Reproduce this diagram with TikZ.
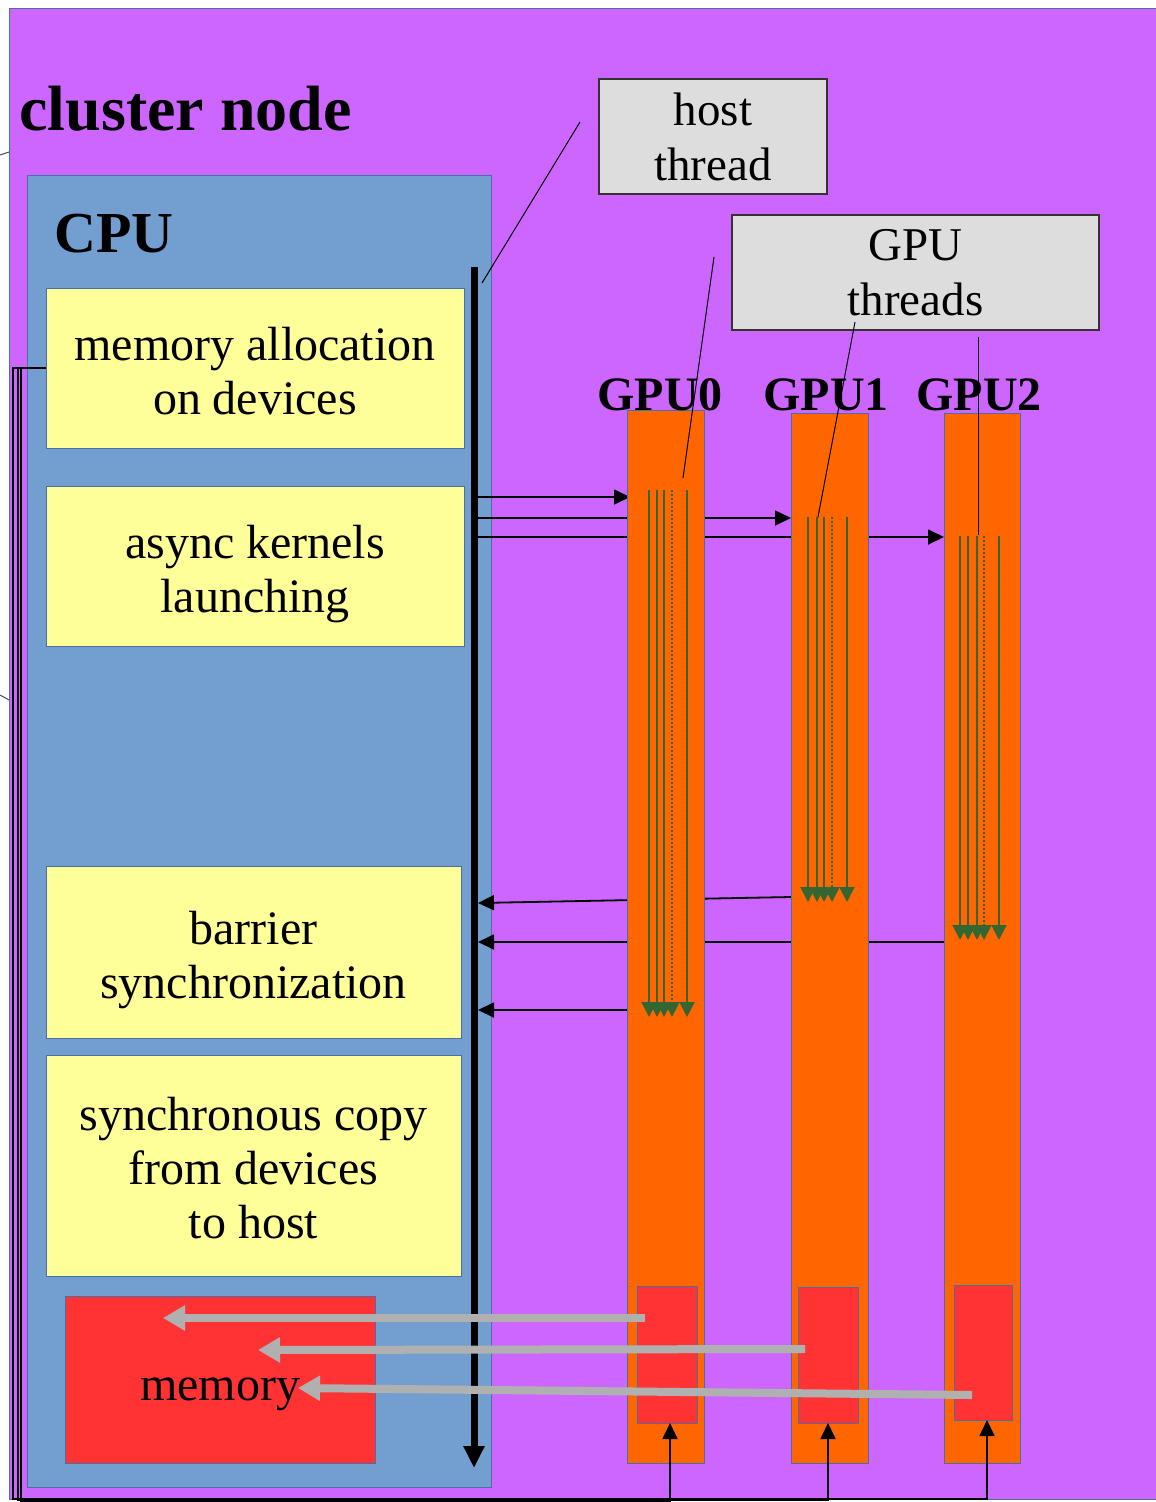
\documentclass[tikz,border=0pt]{standalone}
\usepackage{fontspec}
\setmainfont{Liberation Serif}
\usetikzlibrary{arrows.meta}

\definecolor{nodepurple}{HTML}{CC66FF}
\definecolor{cpublue}{HTML}{729FCF}
\definecolor{stepyellow}{HTML}{FFFF99}
\definecolor{gpuorange}{HTML}{FF6600}
\definecolor{memred}{HTML}{FF3333}
\definecolor{notegray}{HTML}{DDDDDD}
\definecolor{threadgreen}{HTML}{336633}
\definecolor{copygray}{HTML}{B0B0B0}
\definecolor{edgeblue}{HTML}{4A6FA5}

\tikzset{
  region/.style={draw=edgeblue, line width=1pt, inner sep=0pt, outer sep=0pt,
    anchor=north west, align=center},
  steptext/.style={font=\fontsize{48}{54}\selectfont, align=center, inner sep=0pt},
  notebox/.style={draw=black!80, fill=notegray, line width=1.2pt, inner sep=0pt,
    outer sep=0pt, anchor=north west, align=center, font=\fontsize{47}{55}\selectfont},
  link/.style={draw=black, line width=1.8pt, -{Triangle[length=16pt,width=15pt]}},
  leader/.style={draw=black, line width=1pt},
  thr/.style={draw=threadgreen, line width=2pt, -{Triangle[length=15pt,width=15pt]}},
  thrdot/.style={thr, dash pattern=on 2pt off 2pt},
  copyarrow/.style={draw=copygray, line width=8pt, -{Triangle[length=22pt,width=24pt]}},
  hostline/.style={draw=black, line width=7pt, -{Triangle[length=22pt,width=20pt]}},
  gpulabel/.style={anchor=base west, font=\bfseries\fontsize{48}{54}\selectfont},
}

\begin{document}
\begin{tikzpicture}[x=1pt,y=-1pt]
\useasboundingbox (0,0) rectangle (1156,1502);
\clip (0,0) rectangle (1156,1502);
\fill[white] (0,0) rectangle (1156,1502);

% cluster node and the stubs of its outside connectors
\node[region, fill=nodepurple, minimum width=1160pt, minimum height=1491pt] (cluster) at (9,8) {};
\coordinate (stubA) at (0,155);
\coordinate (stubB) at (0,695);
\draw[black!70, line width=1pt] (stubA) -- (cluster.west |- 0,152);
\draw[black!70, line width=1pt] (stubB) -- (cluster.west |- 0,700);
\node[anchor=base west, font=\bfseries\fontsize{64}{70}\selectfont] (clusterlabel) at (16,130) {cluster node};

% CPU with its steps and memory
\node[region, fill=cpublue, minimum width=464pt, minimum height=1312pt] (cpu) at (27,175) {};
\node[anchor=base west, font=\bfseries\fontsize{58}{64}\selectfont] (cpulabel) at (51,252) {CPU};

\node[region, fill=stepyellow, minimum width=418pt, minimum height=160pt] (alloc) at (46,288) {};
\node[steptext, yshift=-3pt] (alloctext) at (alloc) {memory allocation\\on devices};
\node[region, fill=stepyellow, minimum width=418pt, minimum height=160pt] (launch) at (46,486) {};
\node[steptext, yshift=-8pt] (launchtext) at (launch) {async kernels\\launching};
\node[region, fill=stepyellow, minimum width=415pt, minimum height=172pt] (barrier) at (46,866) {};
\node[steptext, yshift=-8pt] (barriertext) at (barrier) {barrier\\synchronization};
\node[region, fill=stepyellow, minimum width=415pt, minimum height=221pt] (copy) at (46,1055) {};
\node[steptext, yshift=-3pt] (copytext) at (copy) {synchronous copy\\from devices\\to host};
\node[region, fill=memred, minimum width=310pt, minimum height=167pt] (hostmem) at (65,1296) {};
\node[steptext, yshift=-15pt] (hostmemtext) at (hostmem) {memory};

% host thread: kernel launches and barrier signals
\coordinate (t1) at (478,497);
\coordinate (t2) at (478,518);
\coordinate (t3) at (478,537);
\coordinate (g1out) at (791,897);
\coordinate (b1) at (478,903);
\coordinate (b2) at (478,942);
\coordinate (b3) at (478,1010);

% GPU columns (outlines first, so the launch lines can refer to them)
\node[region, draw=none, minimum width=77pt, minimum height=1053pt] (gpu0) at (627,410) {};
\node[region, draw=none, minimum width=77pt, minimum height=1050pt] (gpu1) at (791,413) {};
\node[region, draw=none, minimum width=76pt, minimum height=1050pt] (gpu2) at (944,413) {};

\draw[link] (t1) -- ([xshift=3pt]t1 -| gpu0.west);
\draw[link] (t2) -- (t2 -| gpu1.west);
\draw[link] (t3) -- (t3 -| gpu2.west);
\draw[link] (g1out) -- (b1);
\draw[link] (b2 -| gpu2.west) -- (b2);
\draw[link] (b3 -| gpu0.west) -- (b3);

\draw[edgeblue, line width=1pt, fill=gpuorange] (gpu0.north west) rectangle (gpu0.south east);
\draw[edgeblue, line width=1pt, fill=gpuorange] (gpu1.north west) rectangle (gpu1.south east);
\draw[edgeblue, line width=1pt, fill=gpuorange] (gpu2.north west) rectangle (gpu2.south east);

\node[region, fill=memred, minimum width=60pt, minimum height=137pt] (mem0) at (637,1286) {};
\node[region, fill=memred, minimum width=60pt, minimum height=136pt] (mem1) at (798,1287) {};
\node[region, fill=memred, minimum width=58pt, minimum height=135pt] (mem2) at (954,1285) {};

% GPU threads
\foreach \x in {649,657,664,687} \draw[thr] (\x,490) -- (\x,1017);
\draw[thrdot] (672,490) -- (672,1017);
\foreach \x in {808,817,824,847} \draw[thr] (\x,517) -- (\x,902);
\draw[thrdot] (832,517) -- (832,902);
\foreach \x in {960,968,977,999} \draw[thr] (\x,536) -- (\x,940);
\draw[thrdot] (984,536) -- (984,940);

% host thread
\coordinate (htop) at (474,267);
\coordinate (hbot) at (474,1468);
\draw[hostline] (htop) -- (hbot);

% device memory allocation
\coordinate (r0) at (13,1499);
\coordinate (r1) at (18,1500);
\coordinate (r2) at (21,1501);
\draw[link] (alloc.west) -| (r0) -| ([xshift=4pt]mem2.south);
\draw[link] (alloc.west) -| (r1) -| (mem1.south);
\draw[link] (alloc.west) -| (r2) -| ([xshift=3pt]mem0.south);

% GPU names
\node[gpulabel] (gpu0label) at (594,410) {GPU0};
\node[gpulabel] (gpu1label) at (760,410) {GPU1};
\node[gpulabel] (gpu2label) at (913,410) {GPU2};

% notes and their leader lines
\node[notebox, minimum width=228pt, minimum height=115pt] (hostnote) at (599,79) {host\\thread};
\node[notebox, minimum width=367pt, minimum height=115pt] (gpunote) at (732,215) {GPU\\threads};
\coordinate (hn) at (580,122);
\coordinate (hnend) at (482,283);
\draw[leader] (hn) -- (hnend);
\coordinate (gn0) at (714,257);
\coordinate (gn0end) at (683,478);
\coordinate (gn1) at (855,322);
\coordinate (gn1end) at (818,517);
\coordinate (gn2) at (978,337);
\coordinate (gn2end) at (978,535);
\draw[leader] (gn0) -- (gn0end);
\draw[leader] (gn1) -- (gn1end);
\draw[leader] (gn2) -- (gn2end);

% synchronous copies back to host memory
\coordinate (c0) at (645,1318);
\coordinate (c0end) at (163,1318);
\coordinate (c1) at (805,1349);
\coordinate (c1end) at (258,1350);
\coordinate (c2) at (972,1395);
\coordinate (c2end) at (298,1388);
\draw[copyarrow] (c0) -- (c0end);
\draw[copyarrow] (c1) -- (c1end);
\draw[copyarrow] (c2) -- (c2end);
\end{tikzpicture}
\end{document}
